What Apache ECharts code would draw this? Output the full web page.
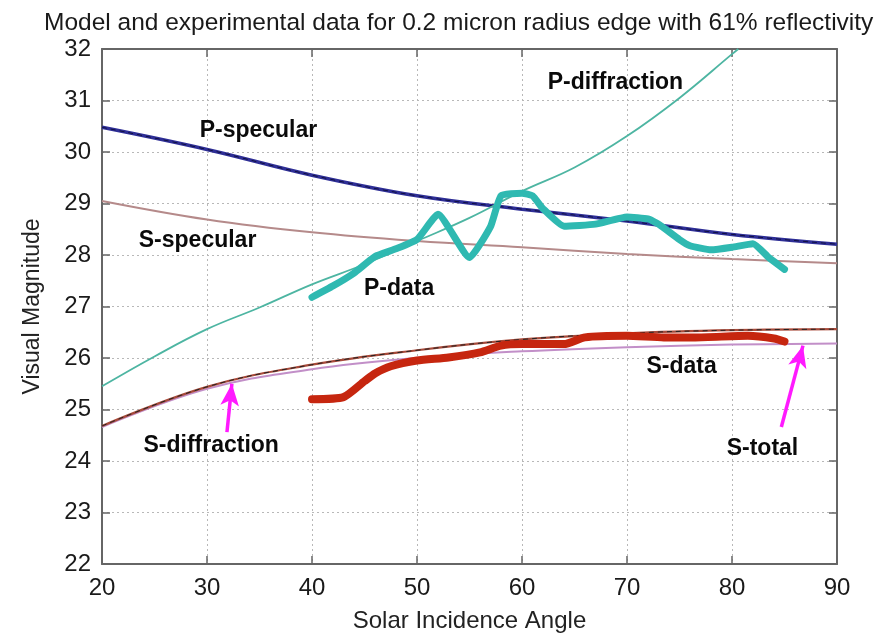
<!DOCTYPE html>
<html>
<head>
<meta charset="utf-8">
<script src="https://cdn.jsdelivr.net/npm/echarts@6/dist/echarts.min.js"></script>
<style>
html,body{margin:0;padding:0;background:#fff;}
#chart{width:891px;height:638px;}
</style>
</head>
<body>
<div id="chart"></div>
<script>
// ---- Data ----
var titleText = 'Model and experimental data for 0.2 micron radius edge with 61% reflectivity';
var xAxisName = 'Solar Incidence Angle';
var yAxisName = 'Visual Magnitude';

var xModel10 = [20, 30, 40, 50, 60, 70, 80, 90];
var pSpecular = [30.48, 30.05, 29.55, 29.15, 28.89, 28.66, 28.40, 28.21];
var sSpecular = [29.05, 28.69, 28.44, 28.27, 28.15, 28.02, 27.92, 27.84];
var sTotalUpper = [24.68, 25.44, 25.87, 26.15, 26.36, 26.48, 26.54, 26.56];
var sDiffLower = [24.66, 25.40, 25.78, 26.00, 26.13, 26.21, 26.26, 26.28];

var pDiffX = [20, 25, 30, 35, 40, 45, 50, 55, 60, 65, 70, 75, 80, 80.6];
var pDiffraction = [25.45, 26.03, 26.56, 26.98, 27.43, 27.82, 28.27, 28.72, 29.24, 29.70, 30.31, 31.05, 31.90, 32.0];

var pDataX = [40, 42, 44, 46, 48, 50, 52, 55, 57, 58, 60, 61, 62, 64, 67, 70, 72, 73, 75, 76, 78, 80, 82, 83.5, 85];
var pData = [27.18, 27.40, 27.65, 27.97, 28.12, 28.30, 28.79, 27.95, 28.55, 29.15, 29.20, 29.15, 28.90, 28.56, 28.60, 28.74, 28.70, 28.60, 28.30, 28.18, 28.10, 28.15, 28.22, 27.95, 27.72];

var sDataX = [40, 43, 45, 46, 47.5, 50, 53, 56, 58, 60, 64, 66, 70, 73.5, 76.5, 81.5, 84, 85];
var sData = [25.20, 25.24, 25.55, 25.70, 25.84, 25.95, 26.01, 26.11, 26.24, 26.27, 26.27, 26.40, 26.43, 26.40, 26.40, 26.43, 26.38, 26.32];

var labelTexts = ['P-specular', 'S-specular', 'P-diffraction', 'P-data', 'S-data', 'S-diffraction', 'S-total'];
var labelX = [34.9, 29.1, 68.9, 48.3, 75.2, 30.4, 82.9];
var labelY = [30.42, 28.27, 31.35, 27.34, 25.83, 24.30, 24.24];

var arrowFromX = [31.9, 84.7];
var arrowFromY = [24.56, 24.66];
var arrowToX = [32.37, 86.76];
var arrowToY = [25.50, 26.24];

var xTicks = {min: 20, max: 90, interval: 10};
var yTicks = {min: 22, max: 32, interval: 1};

// ---- helpers ----
function pairs(xs, ys) { return xs.map(function (x, i) { return [x, ys[i]]; }); }

var chart = echarts.init(document.getElementById('chart'), null, {renderer: 'canvas'});
var FONT = '"Liberation Sans", Arial, Helvetica, sans-serif';
var frameColor = '#666';

var tickStyle = {show: true, inside: true, length: 8, lineStyle: {color: frameColor, width: 1.5}};

function modelLine(name, xs, ys, color, width, dash) {
  return {name: name, type: 'line', data: pairs(xs, ys), smooth: 0.4,
          symbol: 'none', silent: true,
          lineStyle: {color: color, width: width, type: dash || 'solid'}};
}

var option = {
  animation: false,
  backgroundColor: '#ffffff',
  title: {
    text: titleText, left: 39, top: 6,
    textStyle: {fontFamily: FONT, fontSize: 24.5, fontWeight: 'normal', color: '#1a1a1a'}
  },
  grid: {left: 102, right: 54, top: 49, bottom: 72, containLabel: false},
  xAxis: [{
    type: 'value', position: 'bottom', min: xTicks.min, max: xTicks.max, interval: xTicks.interval,
    name: xAxisName, nameLocation: 'middle', nameGap: 45,
    nameTextStyle: {fontFamily: FONT, fontSize: 24, color: '#222'},
    axisLine: {show: true, onZero: false, lineStyle: {color: frameColor, width: 2}},
    axisTick: tickStyle,
    axisLabel: {fontFamily: FONT, fontSize: 24, color: '#1a1a1a', margin: 12},
    splitLine: {show: true, lineStyle: {color: '#b8b8b8', width: 1, type: [2, 3]}}
  }, {
    type: 'value', position: 'top', min: xTicks.min, max: xTicks.max, interval: xTicks.interval,
    axisLine: {show: true, onZero: false, lineStyle: {color: frameColor, width: 2}},
    axisTick: tickStyle, axisLabel: {show: false}, splitLine: {show: false}
  }],
  yAxis: [{
    type: 'value', position: 'left', min: yTicks.min, max: yTicks.max, interval: yTicks.interval,
    name: yAxisName, nameLocation: 'middle', nameGap: 58,
    nameTextStyle: {fontFamily: FONT, fontSize: 23, color: '#222'},
    axisLine: {show: true, onZero: false, lineStyle: {color: frameColor, width: 2}},
    axisTick: tickStyle,
    axisLabel: {fontFamily: FONT, fontSize: 24, color: '#1a1a1a', margin: 11},
    splitLine: {show: true, lineStyle: {color: '#b8b8b8', width: 1, type: [2, 3]}}
  }, {
    type: 'value', position: 'right', min: yTicks.min, max: yTicks.max, interval: yTicks.interval,
    axisLine: {show: true, onZero: false, lineStyle: {color: frameColor, width: 2}},
    axisTick: tickStyle, axisLabel: {show: false}, splitLine: {show: false}
  }],
  series: [
    modelLine('S-specular', xModel10, sSpecular, '#b58a8a', 2),
    modelLine('P-specular', xModel10, pSpecular, '#2e2e96', 3.5),
    modelLine('P-specular-dash', xModel10, pSpecular, '#101040', 1, [5, 4]),
    modelLine('P-diffraction', pDiffX, pDiffraction, '#4db5a2', 1.8),
    modelLine('S-diffraction', xModel10, sDiffLower, '#c28fc8', 2),
    modelLine('S-total', xModel10, sTotalUpper, '#a84a3a', 2.2),
    modelLine('S-total-dash', xModel10, sTotalUpper, '#222', 1, [5, 4]),
    {name: 'P-data', type: 'line', data: pairs(pDataX, pData), smooth: 0.15, symbol: 'none', silent: true,
     lineStyle: {color: '#2fb9b1', width: 7, cap: 'round', join: 'round'}},
    {name: 'S-data', type: 'line', data: pairs(sDataX, sData), smooth: 0.2, symbol: 'none', silent: true,
     lineStyle: {color: '#c6260f', width: 8, cap: 'round', join: 'round'}},
    {name: 'arrows', type: 'line', data: [], symbol: 'none',
     markLine: {
       silent: true, symbol: ['none', 'arrow'], symbolSize: [14, 22],
       label: {show: false},
       lineStyle: {color: '#ff1aff', width: 3.5, type: 'solid'},
       data: arrowFromX.map(function (fx, i) {
         return [{coord: [fx, arrowFromY[i]]}, {coord: [arrowToX[i], arrowToY[i]]}];
       })
     }},
    {name: 'labels', type: 'scatter', symbolSize: 1, silent: true,
     itemStyle: {color: 'rgba(255,255,255,0)'},
     data: labelTexts.map(function (t, i) { return {name: t, value: [labelX[i], labelY[i]]}; }),
     label: {show: true, position: 'inside', formatter: function (p) { return p.name; },
             fontFamily: FONT, fontSize: 23, fontWeight: 'bold', color: '#0a0a0a',
             textBorderWidth: 0, textShadowBlur: 0, opacity: 1}}
  ]
};
chart.setOption(option);
</script>
</body>
</html>
